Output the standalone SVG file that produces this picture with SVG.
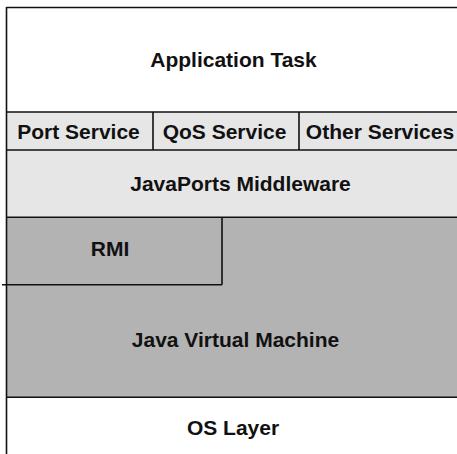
<svg xmlns="http://www.w3.org/2000/svg" width="457" height="454" viewBox="0 0 457 454">
<style>
.ln{stroke:#111;stroke-width:1.6;fill:none}
.t{font-family:"Liberation Sans",Arial,sans-serif;font-weight:bold;font-size:21px;fill:#111;text-anchor:middle}
.lg{fill:#e6e6e6}
.dg{fill:#b3b3b3}
</style>
<rect x="0" y="0" width="457" height="454" fill="#fff"/>
<g id="app-task">
<rect x="6.5" y="7.5" width="451" height="104.5" fill="#fff"/>
<text class="t" x="233.5" y="67">Application Task</text>
</g>
<g id="port-service">
<rect class="lg" x="6.5" y="112" width="146.5" height="38"/>
<text class="t" x="78.5" y="138.5">Port Service</text>
</g>
<g id="qos-service">
<rect class="lg" x="153" y="112" width="146" height="38"/>
<text class="t" x="224.5" y="138.5">QoS Service</text>
</g>
<g id="other-services">
<rect class="lg" x="299" y="112" width="158" height="38"/>
<text class="t" x="380" y="138.5">Other Services</text>
</g>
<g id="middleware">
<rect class="lg" x="6.5" y="150" width="451" height="67.3"/>
<text class="t" x="240.5" y="191">JavaPorts Middleware</text>
</g>
<g id="jvm">
<rect class="dg" x="6.5" y="217.3" width="451" height="180"/>
<text class="t" x="235.5" y="347">Java Virtual Machine</text>
</g>
<g id="rmi">
<rect class="dg" x="6.5" y="217.3" width="215.5" height="67.4"/>
<text class="t" x="110" y="255.5">RMI</text>
</g>
<g id="os-layer">
<rect x="6.5" y="397.3" width="451" height="57" fill="#fff"/>
<text class="t" x="233" y="435">OS Layer</text>
</g>
<g id="connectors">
<path class="ln" d="M6.5 7.5H457M6.5 7V454M6.5 112H457M6.5 150H457M153 112V150M299 112V150M6.5 217.3H457M222 217.3V284.7M2 284.7H222M6.5 397.3H457"/>
</g>
</svg>
